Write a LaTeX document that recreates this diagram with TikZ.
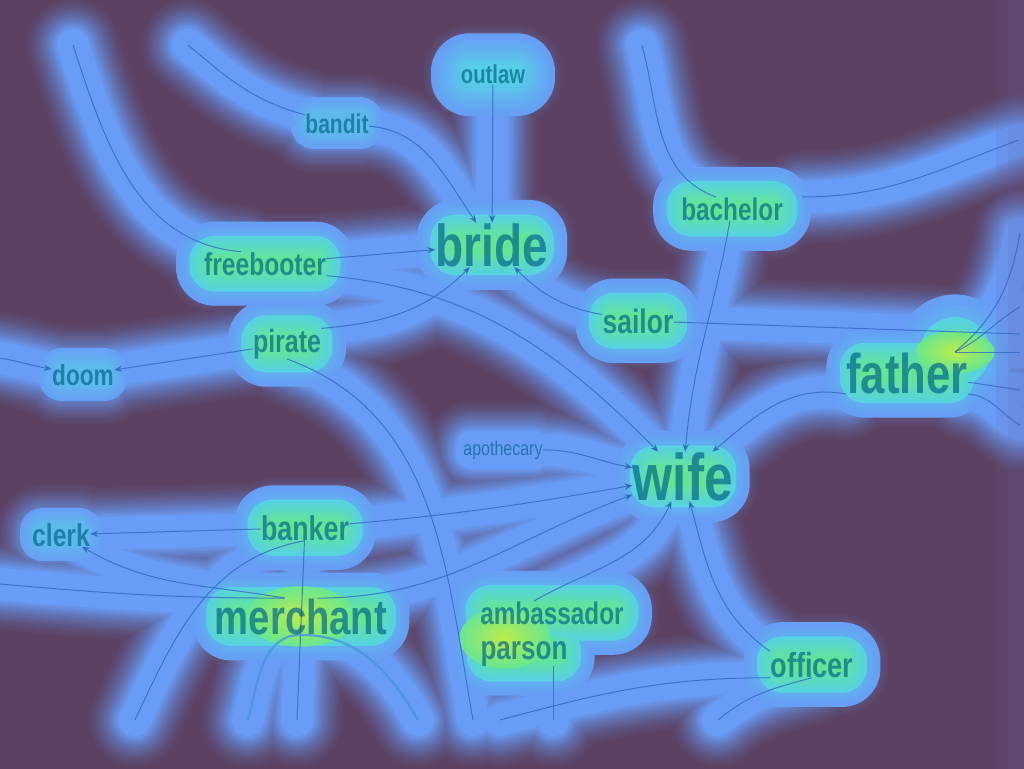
\documentclass[tikz,border=0pt]{standalone}
\usepackage{fontspec}
\usetikzlibrary{arrows.meta,calc}
\newfontfamily\heatfont[FakeStretch=0.78]{Liberation Sans}
\newfontfamily\thinfont[FakeStretch=0.8]{Liberation Sans}
\definecolor{bgc}{RGB}{91,66,99}
\definecolor{stripc}{RGB}{108,96,160}
\definecolor{hb}{RGB}{104,156,246}
\definecolor{cy}{RGB}{86,208,230}
\definecolor{gr}{RGB}{98,230,148}
\definecolor{yl}{RGB}{196,238,64}
\definecolor{wordc}{RGB}{0,100,140}
\definecolor{linkc}{RGB}{50,104,196}
\definecolor{heavyc}{RGB}{70,150,224}
\pgfdeclarelayer{glow}
\pgfsetlayers{glow,main}

% all links, used once per glow ring and once for the thin lines
\newcommand\linkpaths{
    (outlaw) edge[arr] (bride)
    (t2) edge[out=-40, in=165] (bandit)
    (bandit) edge[arr, out=-5, in=125] (bride)
    (t1) edge[out=-72, in=175] ([xshift=-12]freebooter.north)
    (freebooter) edge[arr] (bride)
    (freebooter.south east) edge[arr, out=-5, in=135] (wife)
    (pirate.north east) edge[arr, out=5, in=-135] (bride)
    (pirate) edge[arr] (doom)
    (l1) edge[arr, out=-10, in=170] (doom)
    (pirate.south) edge[out=-20, in=100] (b5)
    (sailor) edge[arr, out=170, in=-45] (bride)
    (sailor) edge (r2)
    (t3) edge[out=-75, in=160] ([xshift=-8]bachelor.north)
    ([xshift=35]bachelor.north) edge[out=0, in=-160] (r1)
    (bachelor) edge[arr, out=-100, in=85] (wife)
    (r3) edge[out=-100, in=40] (fhot)
    (r4) edge[out=-150, in=25] (fhot)
    (r5) edge (fhot)
    (father) edge (r6)
    (father.south east) edge[out=-5, in=150] (r7)
    (father.south west) edge[arr, out=170, in=40] (wife)
    (apothecary) edge[arr, out=0, in=170] (wife)
    (banker) edge[arr, out=5, in=190] (wife)
    (banker) edge[arr] (clerk)
    ([xshift=35]merchant.north west) edge[arr, out=170, in=-30] (clerk)
    (l2) edge[out=-5, in=180] ([xshift=35]merchant.north west)
    ([xshift=-35]merchant.north east) edge[arr, out=0, in=200] (wife)
    (banker) edge (b3)
    (banker.south) edge[out=190, in=65] (b1)
    (merchant.south) edge[heavy, out=180, in=75] (b2)
    (merchant.south) edge[heavy, out=0, in=120] (b4)
    ([xshift=-45]ambassador.north east) edge[arr, out=30, in=-115] (wife)
    (officer.north west) edge[arr, out=145, in=-75] (wife)
    (b6) edge[out=15, in=180] (officer.south west)
    (officer.south) edge[out=195, in=40] (b8)
    (parson.south -| b7) edge (b7)
}
\newcommand\allwords{outlaw,bandit,bride,bachelor,freebooter,sailor,pirate,doom,
    father,apothecary,wife,clerk,banker,merchant,ambassador,parson,officer}
\newcommand\warmwords{outlaw,bride,bachelor,freebooter,sailor,pirate,father,
    wife,banker,merchant,ambassador,parson,officer}
\newcommand\hotwords{bride,bachelor,freebooter,sailor,pirate,father,
    wife,banker,merchant,ambassador,parson,officer}
% a flat bar inside a word, its ends in by part of the word's height
\newcommand\wordbar[2]{let \p1=(#1.south west), \p2=(#1.north east) in
    ({\x1+0.45*(\y2-\y1)}, {0.5*(\y1+\y2)-#2*(\y2-\y1)}) rectangle
    ({\x2-0.45*(\y2-\y1)}, {0.5*(\y1+\y2)+#2*(\y2-\y1)})}

\begin{document}
\begin{tikzpicture}[x=0.5pt, y=0.5pt,
    word/.style={inner sep=0pt, anchor=base, text=wordc, text opacity=0.68,
        font=\heatfont\bfseries\fontsize{#1}{#1}\selectfont},
    thinword/.style={word=#1, font=\thinfont\fontsize{#1}{#1}\selectfont},
    link/.style={draw=linkc, draw opacity=0.8, line width=0.5pt},
    arr/.style={}, heavy/.style={}]
    \useasboundingbox (0,0) rectangle (1024,768);

    \path (493,684) node (outlaw) [word=13] {outlaw};
    \path (337,635) node (bandit) [word=13.5] {bandit};
    \path (492,502) node (bride) [word=29.5] {bride};
    \path (732,548) node (bachelor) [word=15.6] {bachelor};
    \path (265,493) node (freebooter) [word=15.8] {freebooter};
    \path (638,435) node (sailor) [word=17] {sailor};
    \path (287,416) node (pirate) [word=16] {pirate};
    \path (83,383) node (doom) [word=14.5] {doom};
    \path (907,375) node (father) [word=28] {father};
    \path (503,313) node (apothecary) [thinword=10] {apothecary};
    \path (683,268) node (wife) [word=33] {wife};
    \path (61,222) node (clerk) [word=15.8] {clerk};
    \path (305,228) node (banker) [word=17.2] {banker};
    \path (301,134) node (merchant) [word=24.5] {merchant};
    \path (552,144) node (ambassador) [word=15.6] {ambassador};
    \path (524,109) node (parson) [word=16.7] {parson};
    \path (812,91) node (officer) [word=17.4] {officer};

    % loose ends at the margins
    \coordinate (t1) at (73,723);
    \coordinate (t2) at (188,723);
    \coordinate (t3) at (642,723);
    \coordinate (r1) at (1019,628);
    \coordinate (r2) at (1020,434);
    \coordinate (r3) at (1020,535);
    \coordinate (r4) at (1020,461);
    \coordinate (r5) at (1020,416);
    \coordinate (r6) at (1020,378);
    \coordinate (r7) at (1020,343);
    \coordinate (l1) at (0,410);
    \coordinate (l2) at (0,184);
    \coordinate (b1) at (135,48);
    \coordinate (b2) at (248,48);
    \coordinate (b3) at (297,48);
    \coordinate (b4) at (418,48);
    \coordinate (b5) at (473,48);
    \coordinate (b6) at (500,48);
    \coordinate (b7) at (553,48);
    \coordinate (b8) at (718,48);
    \coordinate (fhot) at (955,416);
    \coordinate (ahot) at (505,130);

    \begin{pgfonlayer}{glow}
    \fill[bgc] (-4,-4) rectangle (1028,772);
    % blue rings round links and words
    \foreach \i in {1,...,16} {
        \pgfmathsetmacro\w{50-34*\i/16}
        \pgfmathsetmacro\p{100*(\i/16)^1.5}
        \path[every edge/.style={draw=hb!\p!bgc, line width=\w pt,
            line cap=round, line join=round}] \linkpaths;
        \filldraw[hb!\p!bgc, line width=\w pt, line join=round]
            \foreach \k in \allwords {\wordbar{\k}{0.15}};
    }
    % cyan and green cores
    \foreach \i in {1,...,6} {
        \pgfmathsetmacro\w{26-18*\i/6}
        \pgfmathsetmacro\p{55*\i/6}
        \filldraw[cy!\p!hb, line width=\w pt, line join=round]
            \foreach \k in {doom,clerk,bandit} {\wordbar{\k}{0.15}};
    }
    \foreach \i in {1,...,10} {
        \pgfmathsetmacro\w{42-36*\i/10}
        \pgfmathsetmacro\p{100*(\i/10)^1.3}
        \filldraw[cy!\p!hb, line width=\w pt, line join=round]
            \foreach \k in \warmwords {\wordbar{\k}{0.15}}
            (fhot) circle ({0.5*\w});
    }
    \foreach \i in {1,...,8} {
        \pgfmathsetmacro\w{28-24*\i/8}
        \pgfmathsetmacro\p{100*(\i/8)^1.2}
        \filldraw[gr!\p!cy, line width=\w pt, line join=round]
            \foreach \k in \hotwords {\wordbar{\k}{0.12}}
            (fhot) circle ({0.4*\w});
    }
    \foreach \i in {1,...,8} {
        \pgfmathsetmacro\r{34-30*\i/8}
        \pgfmathsetmacro\p{85*(\i/8)}
        \fill[yl!\p!gr] (merchant.center) ellipse ({1.8*\r} and \r)
            (ahot) ellipse ({1.5*\r} and \r)
            (fhot) ellipse ({1.3*\r} and {0.7*\r});
    }
    % pale strip at the right margin
    \fill[stripc, opacity=0.12] (996,-4) rectangle (1028,772);
    \fill[stripc, opacity=0.14] (1008,-4) rectangle (1028,772);
    \path[every edge/.style={link}, arr/.style={-{Stealth[length=4pt, width=3.2pt]}},
        heavy/.style={draw=heavyc, line width=1.1pt}] \linkpaths;
    \end{pgfonlayer}
\end{tikzpicture}
\end{document}
